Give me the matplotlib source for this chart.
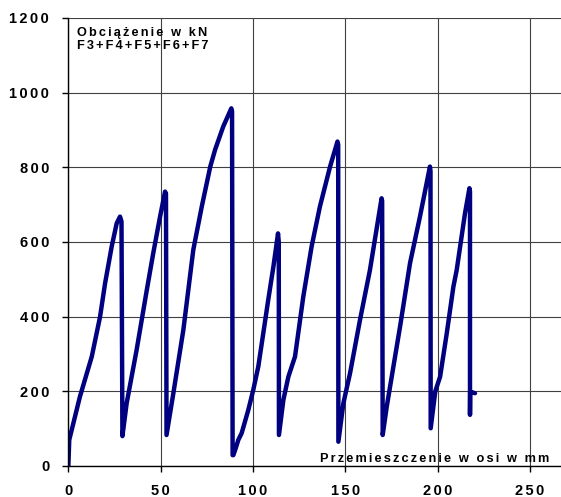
import matplotlib
matplotlib.use("Agg")
import matplotlib.pyplot as plt
from matplotlib.ticker import FuncFormatter

# displacement along the axis [mm] and total load F3..F7 [kN]
disp = [
    0.0, 0.5, 2.7, 6.3, 12.7, 17.2, 19.9, 23.5, 26.2, 28.0, 28.8, 29.3,
    31.6, 37.0, 42.5, 46.0, 49.7, 52.4, 52.9, 53.2,
    56.9, 62.3, 67.7, 72.3, 76.9, 79.5, 83.9, 88.3, 88.7, 89.0,
    89.4, 90.5, 92.1, 93.9, 97.5, 100.2, 102.9, 105.6, 108.3, 111.1, 113.6, 114.0, 114.1,
    116.5, 119.2, 122.8, 127.3, 131.8, 136.3, 141.8, 145.8, 146.2, 146.3,
    149.0, 152.6, 158.0, 163.4, 169.7, 170.0, 170.3,
    172.5, 179.7, 185.1, 190.5, 195.9, 196.2, 196.3,
    198.8, 201.4, 205.0, 208.6, 210.4, 214.9, 217.3, 217.6, 217.6, 217.7, 220.3,
]
load = [
    0, 70, 114, 186, 293, 400, 489, 588, 650, 668, 655, 80,
    168, 311, 471, 570, 668, 735, 730, 83,
    195, 364, 579, 695, 802, 847, 909, 958, 950, 29,
    29, 45, 70, 88, 150, 204, 266, 355, 445, 534, 623, 600, 83,
    177, 239, 293, 454, 588, 695, 802, 869, 860, 65,
    168, 248, 391, 525, 717, 710, 83,
    159, 373, 543, 668, 802, 790, 101,
    200, 239, 355, 480, 525, 677, 744, 735, 137, 199, 195,
]

x_ticks = [0, 50, 100, 150, 200, 250]
y_ticks = [0, 200, 400, 600, 800, 1000, 1200]

plt.rcParams["font.family"] = ["Liberation Sans", "DejaVu Sans"]
plt.rcParams["font.weight"] = "bold"
plt.rcParams["font.size"] = 10

GAP = "\u2006"  # six-per-em space


def spaced(text):
    # widen the lettering a little, the way the old spreadsheet export did
    return GAP.join(text)


fig = plt.figure(figsize=(5.61, 4.97), dpi=100)
ax = fig.add_axes([0.1218, 0.0624, 0.8782, 0.9014])

ax.plot(disp, load, color="#000080", lw=3.2, solid_joinstyle="round",
        solid_capstyle="round", zorder=3)

ax.set_xlim(0, 266.9)
ax.set_ylim(0, 1200)
ax.set_xticks(x_ticks)
ax.set_yticks(y_ticks)

fmt = FuncFormatter(lambda v, pos: spaced(str(int(v))))
ax.xaxis.set_major_formatter(fmt)
ax.yaxis.set_major_formatter(fmt)

ax.tick_params(axis="both", direction="out", length=4.3, width=1.0,
               color="black", labelcolor="black", labelsize=10.5)
ax.tick_params(axis="y", pad=9.5)
ax.tick_params(axis="x", pad=8.5)

ax.grid(True, color="#404040", lw=0.8)
ax.set_axisbelow(True)

for side in ("top", "right"):
    ax.spines[side].set_visible(False)
for side in ("left", "bottom"):
    ax.spines[side].set_color("black")
    ax.spines[side].set_linewidth(1.0)
    ax.spines[side].set_zorder(4)

text_kw = dict(transform=ax.transAxes, fontsize=9.2, va="baseline")
ax.text(0.0177, 0.9598, spaced("Obciążenie w kN"), ha="left", **text_kw)
ax.text(0.0177, 0.9315, spaced("F3+F4+F5+F6+F7"), ha="left", **text_kw)
ax.text(0.9756, 0.0096, spaced("Przemieszczenie w osi w mm"), ha="right",
        **text_kw)

fig.savefig("out.png", dpi=100)
